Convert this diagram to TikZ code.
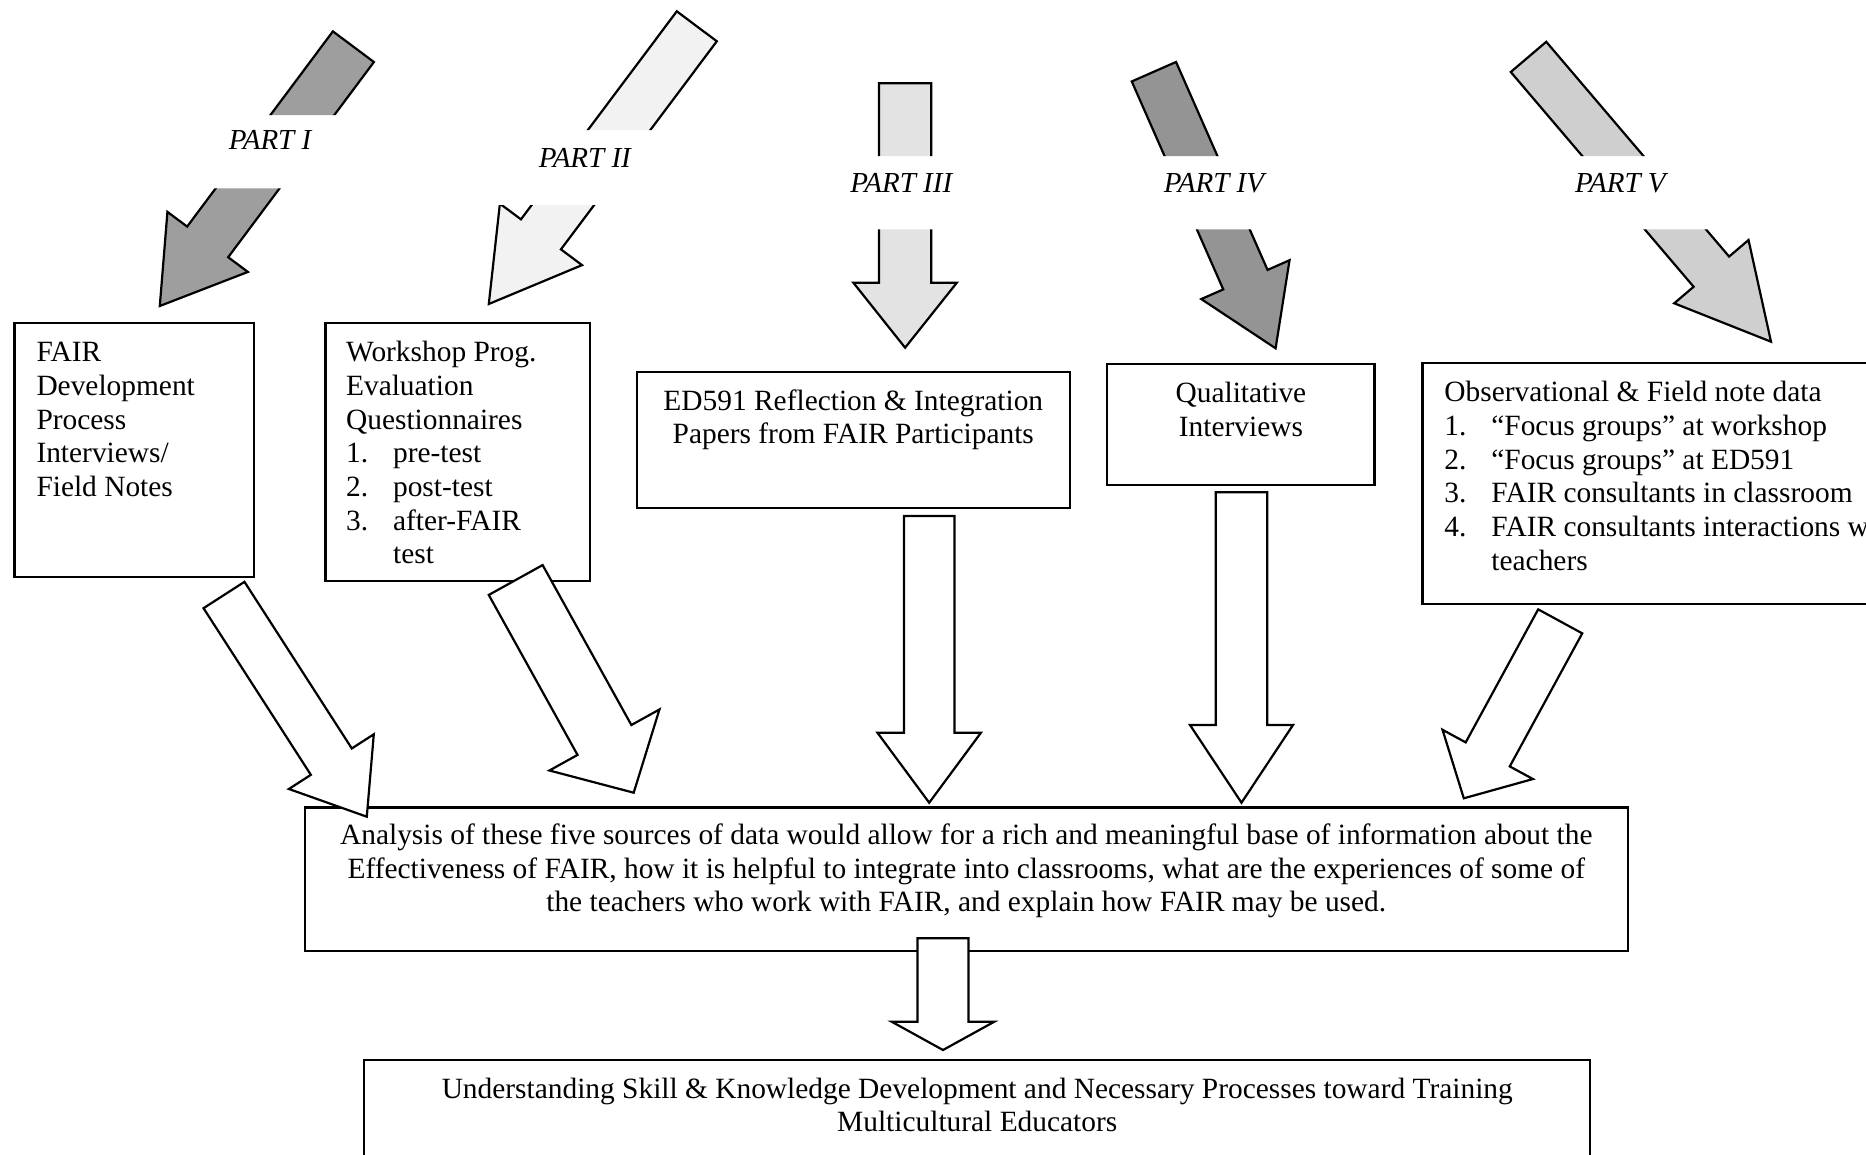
\documentclass[tikz,border=0pt]{standalone}
\usepackage{fontspec}
\setmainfont{Liberation Serif}
\usetikzlibrary{calc}
\definecolor{fillI}{gray}{0.62}
\definecolor{fillII}{gray}{0.95}
\definecolor{fillIII}{gray}{0.89}
\definecolor{fillIV}{gray}{0.58}
\definecolor{fillV}{gray}{0.81}
\tikzset{
  boxnode/.style={draw=black, line width=2.2pt, inner sep=0pt, outer sep=0pt, anchor=north west},
  txt/.style={inner sep=0pt, outer sep=0pt, font=\fontsize{29.4pt}{33.7pt}\selectfont},
  partlabel/.style={inner sep=0pt, outer sep=0pt, font=\fontsize{29pt}{32pt}\selectfont\itshape},
  blockline/.style={draw=black, line width=2.2pt, line join=miter},
  openarrow/.style={blockline, fill=white},
}
\newcommand\blockarrow[7]{%
  \coordinate (#1N) at ($(#4)!#7!(#3)$);
  \path[#2] ($(#3)!#5!90:(#4)$) -- ($(#1N)!#5!90:(#4)$) -- ($(#1N)!#6!90:(#4)$) -- (#4)
     -- ($(#1N)!#6!-90:(#4)$) -- ($(#1N)!#5!-90:(#4)$) -- ($(#3)!#5!-90:(#4)$) -- cycle;
}
\newcommand\itm[2]{\makebox[47pt][l]{#1}#2}
\begin{document}
\begin{tikzpicture}[x=1pt,y=-1pt]
\useasboundingbox (0,0) rectangle (1866,1154);
\clip (0,0) rectangle (1866,1154);
\fill[white] (0,0) rectangle (1866,1154);

% boxes
\node[boxnode, minimum width=239.2pt, minimum height=253.4pt] (b1) at (14.5,323.3) {};
\node[boxnode, minimum width=264.5pt, minimum height=257.4pt] (b2) at (325.4,323.3) {};
\node[boxnode, minimum width=433.4pt, minimum height=136.6pt] (b3) at (636.6,371.7) {};
\node[boxnode, minimum width=267.2pt, minimum height=121.3pt] (b4) at (1107.3,364) {};
\node[boxnode, minimum width=477.6pt, minimum height=240.7pt] (b5) at (1422.4,363.3) {};
\node[boxnode, minimum width=1323.4pt, minimum height=143.5pt] (an) at (304.6,807.5) {};
\node[boxnode, minimum width=1225.9pt, minimum height=140pt] (fin) at (364.3,1060) {};

% box texts
\node[txt, anchor=base west] (t1) at ($(b1.north west)+(22,38.4)$)
  {\begin{tabular}[t]{@{}l@{}}FAIR\\Development\\Process\\Interviews/\\Field Notes\end{tabular}};
\node[txt, anchor=base west] (t2) at ($(b2.north west)+(20.7,38.4)$)
  {\begin{tabular}[t]{@{}l@{}}Workshop Prog.\\Evaluation\\Questionnaires\\\itm{1.}{pre-test}\\\itm{2.}{post-test}\\\itm{3.}{after-FAIR}\\\hspace*{47pt}test\end{tabular}};
\node[txt, anchor=base] (t3) at ($(b3.north)+(0,38.4)$)
  {\begin{tabular}[t]{@{}c@{}}ED591 Reflection \& Integration\\Papers from FAIR Participants\end{tabular}};
\node[txt, anchor=base] (t4) at ($(b4.north)+(0,38.4)$)
  {\begin{tabular}[t]{@{}c@{}}Qualitative\\Interviews\end{tabular}};
\node[txt, anchor=base west] (t5) at ($(b5.north west)+(22,38.4)$)
  {\begin{tabular}[t]{@{}l@{}}Observational \& Field note data\\\itm{1.}{“Focus groups” at workshop}\\\itm{2.}{“Focus groups” at ED591}\\\itm{3.}{FAIR consultants in classroom}\\\itm{4.}{FAIR consultants interactions with}\\\hspace*{47pt}teachers\end{tabular}};
\node[txt, anchor=base] (tan) at ($(an.north)+(0,37)$)
  {\begin{tabular}[t]{@{}c@{}}Analysis of these five sources of data would allow for a rich and meaningful base of information about the\\Effectiveness of FAIR, how it is helpful to integrate into classrooms, what are the experiences of some of\\the teachers who work with FAIR, and explain how FAIR may be used.\end{tabular}};
\node[txt, anchor=base] (tfin) at ($(fin.north)+(0,38)$)
  {\begin{tabular}[t]{@{}c@{}}Understanding Skill \& Knowledge Development and Necessary Processes toward Training\\Multicultural Educators\end{tabular}};

% part labels
\node[partlabel] (l1) at (270,140) {PART I};
\node[partlabel] (l2) at (584.8,158) {PART II};
\node[partlabel] (l3) at (901.3,182.7) {PART III};
\node[partlabel] (l4) at (1213.9,182.7) {PART IV};
\node[partlabel] (l5) at (1620.3,182.7) {PART V};

% upper arrows (cut by labels)
\coordinate (a1T) at (353.4,46.7);  \coordinate (a1P) at (159.8,306);
\coordinate (a2T) at (696.8,26.3);  \coordinate (a2P) at (488.8,304);
\coordinate (a3T) at (905.1,83.3);  \coordinate (a3P) at (905.1,347.7);
\coordinate (a4T) at (1153.9,71.7); \coordinate (a4P) at (1275.6,348.3);
\coordinate (a5T) at (1528.5,56.9); \coordinate (a5P) at (1771,341.7);

\begin{scope}
\clip (100,0) rectangle (420,115) (100,188.3) rectangle (420,1154);
\blockarrow{a1}{fill=fillI, blockline}{a1T}{a1P}{25.6pt}{50.2pt}{80pt}
\end{scope}
\begin{scope}
\clip (420,0) rectangle (760,130) (420,205) rectangle (760,1154);
\blockarrow{a2}{fill=fillII, blockline}{a2T}{a2P}{25pt}{51.3pt}{87pt}
\end{scope}
\begin{scope}
\clip (820,0) rectangle (990,156) (820,229.3) rectangle (990,1154);
\blockarrow{a3}{fill=fillIII, blockline}{a3T}{a3P}{26.1pt}{51.75pt}{65pt}
\end{scope}
\begin{scope}
\clip (1100,0) rectangle (1340,156) (1100,229.3) rectangle (1340,1154);
\blockarrow{a4}{fill=fillIV, blockline}{a4T}{a4P}{24.2pt}{48.2pt}{75pt}
\end{scope}
\begin{scope}
\clip (1480,0) rectangle (1830,156) (1480,229.3) rectangle (1830,1154);
\blockarrow{a5}{fill=fillV, blockline}{a5T}{a5P}{23.3pt}{48.8pt}{92pt}
\end{scope}

% lower arrows
\coordinate (lAT) at (224,595);      \coordinate (lAP) at (366.8,816.7);
\coordinate (lBT) at (515.7,580);    \coordinate (lBP) at (633.7,792.7);
\coordinate (lCT) at ($(b3.south)+(75.9,7.7)$); \coordinate (lCP) at (929.2,802.7);
\coordinate (lDT) at (1241.5,492.3); \coordinate (lDP) at (1241.5,802.7);
\coordinate (lET) at (1560.2,621.35);\coordinate (lEP) at (1463.8,798.3);
\coordinate (lFT) at (943,938.3);    \coordinate (lFP) at (943,1050);

\blockarrow{lA}{openarrow}{lAT}{lAP}{24.35pt}{50.5pt}{65.5pt}
\blockarrow{lB}{openarrow}{lBT}{lBP}{30.8pt}{62.9pt}{60.3pt}
\blockarrow{lC}{openarrow}{lCT}{lCP}{25.2pt}{51.75pt}{70pt}
\blockarrow{lD}{openarrow}{lDT}{lDP}{25.75pt}{51.5pt}{77.7pt}
\blockarrow{lE}{openarrow}{lET}{lEP}{25.1pt}{51.5pt}{50pt}
\blockarrow{lF}{openarrow}{lFT}{lFP}{25.5pt}{51.3pt}{28.3pt}
\end{tikzpicture}
\end{document}
